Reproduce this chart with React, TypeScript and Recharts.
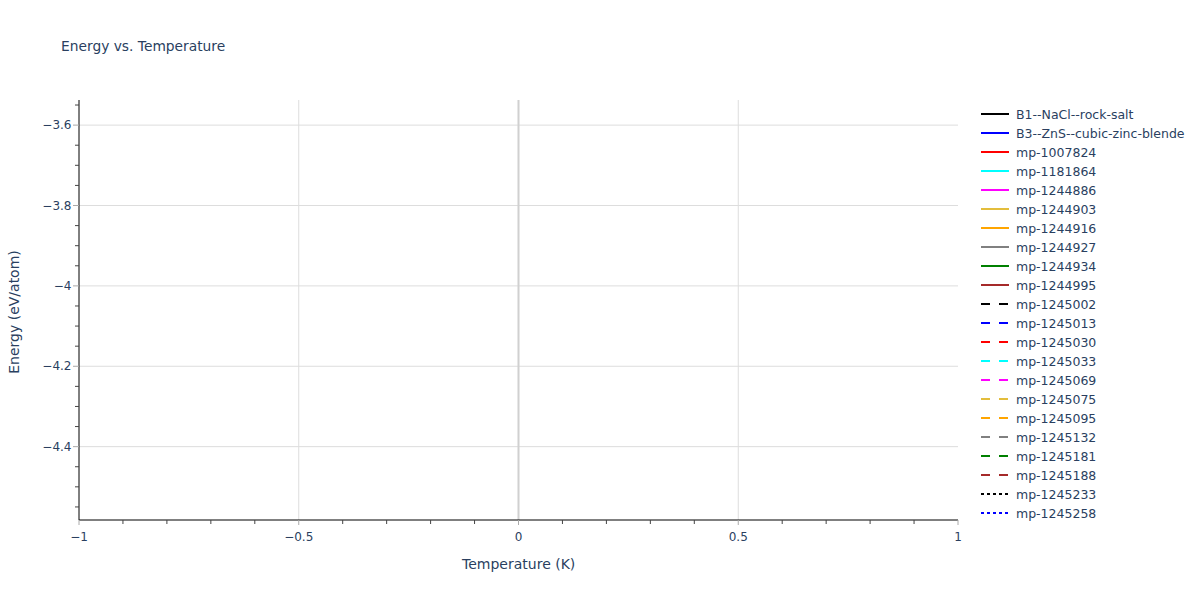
import React from "react";
import { LineChart, Line, XAxis, YAxis, ReferenceLine, Legend } from "recharts";

const seriesNames = [
  "B1--NaCl--rock-salt",
  "B3--ZnS--cubic-zinc-blende",
  "mp-1007824",
  "mp-1181864",
  "mp-1244886",
  "mp-1244903",
  "mp-1244916",
  "mp-1244927",
  "mp-1244934",
  "mp-1244995",
  "mp-1245002",
  "mp-1245013",
  "mp-1245030",
  "mp-1245033",
  "mp-1245069",
  "mp-1245075",
  "mp-1245095",
  "mp-1245132",
  "mp-1245181",
  "mp-1245188",
  "mp-1245233",
  "mp-1245258",
];
const seriesColors = [
  "#000000", "#0000ff", "#ff0000", "#00ffff", "#ff00ff", "#e3bd3c", "#ffa500", "#808080", "#008000", "#a52a2a",
  "#000000", "#0000ff", "#ff0000", "#00ffff", "#ff00ff", "#e3bd3c", "#ffa500", "#808080", "#008000", "#a52a2a",
  "#000000", "#0000ff",
];
const seriesDash = [
  "solid", "solid", "solid", "solid", "solid", "solid", "solid", "solid", "solid", "solid",
  "dash", "dash", "dash", "dash", "dash", "dash", "dash", "dash", "dash", "dash",
  "dot", "dot",
];

const xDomain = [-1, 1];
const yDomain = [-4.5825, -3.5375];
const xTicks = [-1, -0.9, -0.8, -0.7, -0.6, -0.5, -0.4, -0.3, -0.2, -0.1, 0, 0.1, 0.2, 0.3, 0.4, 0.5, 0.6, 0.7, 0.8, 0.9, 1];
const xMajor = [-1, -0.5, 0, 0.5, 1];
const yTicks = [-4.55, -4.5, -4.45, -4.4, -4.35, -4.3, -4.25, -4.2, -4.15, -4.1, -4.05, -4, -3.95, -3.9, -3.85, -3.8, -3.75, -3.7, -3.65, -3.6, -3.55];
const yMajor = [-4.4, -4.2, -4, -3.8, -3.6];

const data: any[] = [];

const FONT = '"DejaVu Sans", Verdana, sans-serif';
const TEXT = "#2a3f5f";

const dashArray = (d: string) => (d === "dash" ? "9,9" : d === "dot" ? "3,3" : undefined);
const isMajor = (v: number, list: number[]) => list.some((m) => Math.abs(m - v) < 1e-9);
const fmt = (v: number) => {
  const s = String(Math.round(v * 100) / 100);
  return s.replace("-", "\u2212");
};

const XTick = (props: any) => {
  const { x, y, payload } = props;
  const major = isMajor(payload.value, xMajor);
  return (
    <g>
      <line x1={x} x2={x} y1={y - 8} y2={y - 8 + (major ? 5 : 4)} stroke={major ? "#aaa" : "#444"} strokeWidth={1} />
      {major && (
        <text x={x} y={y + 13} textAnchor="middle" fontSize={12} fill={TEXT} fontFamily={FONT}>
          {fmt(payload.value)}
        </text>
      )}
    </g>
  );
};

const YTick = (props: any) => {
  const { x, y, payload } = props;
  const major = isMajor(payload.value, yMajor);
  return (
    <g>
      <line x1={x + 8} x2={x + 8 - (major ? 6 : 4)} y1={y} y2={y} stroke={major ? "#aaa" : "#444"} strokeWidth={1} />
      {major && (
        <text x={x + 0.5} y={y + 4} textAnchor="end" fontSize={12} fill={TEXT} fontFamily={FONT}>
          {fmt(payload.value)}
        </text>
      )}
    </g>
  );
};

const LegendContent = () => (
  <svg width={220} height={430} style={{ overflow: "visible" }}>
    {seriesNames.map((n, i) => (
      <g key={n} transform={`translate(0, ${i * 19})`}>
        <line x1={1} x2={29} y1={0} y2={0} stroke={seriesColors[i]} strokeWidth={2} strokeDasharray={dashArray(seriesDash[i])} />
        <text x={36} y={4.5} fontSize={12.5} fill={TEXT} fontFamily={FONT}>
          {n}
        </text>
      </g>
    ))}
  </svg>
);

export default function App() {
  return (
    <div style={{ position: "absolute", left: 0, top: 0, width: 1200, height: 600, background: "#fff", fontFamily: FONT }}>
      <div style={{ position: "absolute", left: 0, top: 0 }}>
        <LineChart width={1200} height={600} data={data} margin={{ top: 100, right: 242, bottom: 40, left: 19 }}>
          <XAxis
            type="number"
            dataKey="x"
            domain={xDomain}
            ticks={xTicks}
            interval={0}
            allowDataOverflow
            height={40}
            tickLine={false}
            tick={<XTick />}
            axisLine={{ stroke: "#000", strokeWidth: 1 }}
          />
          <YAxis
            type="number"
            domain={yDomain}
            ticks={yTicks}
            interval={0}
            allowDataOverflow
            width={60}
            tickLine={false}
            tick={<YTick />}
            axisLine={{ stroke: "#000", strokeWidth: 1 }}
          />
          {yMajor.map((v) => (
            <ReferenceLine key={"h" + v} y={v} stroke="#dddddd" strokeWidth={1} />
          ))}
          {xMajor.filter((v) => v !== 0 && Math.abs(v) !== 1).map((v) => (
            <ReferenceLine key={"v" + v} x={v} stroke="#dddddd" strokeWidth={1} />
          ))}
          <ReferenceLine x={0} stroke="#d0d0d0" strokeWidth={2} />
          {seriesNames.map((n, i) => (
            <Line
              key={n}
              dataKey={n}
              name={n}
              stroke={seriesColors[i]}
              strokeWidth={2}
              strokeDasharray={dashArray(seriesDash[i])}
              dot={false}
              isAnimationActive={false}
            />
          ))}
          <Legend
            layout="horizontal"
            verticalAlign="middle"
            align="center"
            content={<LegendContent />}
            wrapperStyle={{ position: "absolute", left: 980, top: 114, width: 220, height: 430 }}
          />
        </LineChart>
      </div>
      <svg width={1200} height={600} style={{ position: "absolute", left: 0, top: 0, pointerEvents: "none" }}>
        <text x={61} y={50.5} fontSize={13.8} fill={TEXT} fontFamily={FONT}>
          Energy vs. Temperature
        </text>
        <text x={518.7} y={568.5} fontSize={14} fill={TEXT} fontFamily={FONT} textAnchor="middle">
          Temperature (K)
        </text>
        <text x={0} y={0} fontSize={14} fill={TEXT} fontFamily={FONT} textAnchor="middle" transform="translate(18.5, 312) rotate(-90)">
          Energy (eV/atom)
        </text>
      </svg>
    </div>
  );
}
